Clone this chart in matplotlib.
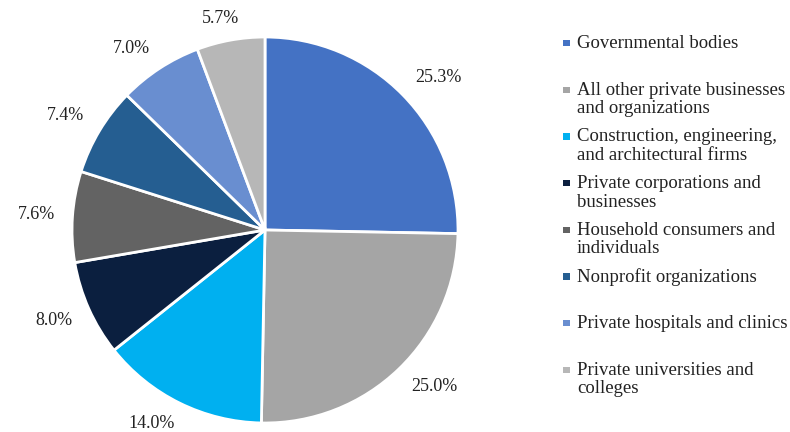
import matplotlib
matplotlib.use("Agg")

import matplotlib.pyplot as plt
import numpy as np
from matplotlib.patches import Rectangle

plt.rcParams["font.family"] = ["Liberation Serif", "DejaVu Serif"]

categories = [
    "Governmental bodies",
    "All other private businesses\nand organizations",
    "Construction, engineering,\nand architectural firms",
    "Private corporations and\nbusinesses",
    "Household consumers and\nindividuals",
    "Nonprofit organizations",
    "Private hospitals and clinics",
    "Private universities and\ncolleges",
]
shares = [25.3, 25.0, 14.0, 8.0, 7.6, 7.4, 7.0, 5.7]
colors = ["#4472C4", "#A5A5A5", "#00B0F0", "#0B1F3F",
          "#636363", "#255E91", "#698ED0", "#B7B7B7"]

TEXT = "#222222"
W, H = 790, 432

fig = plt.figure(figsize=(W / 100, H / 100), dpi=100)
# pie: centre (265, 230) px, radius 193 px
cx, cy, r = 265, 230, 193
ax = fig.add_axes([(cx - r) / W, (H - cy - r) / H, 2 * r / W, 2 * r / H])
wedges, _ = ax.pie(shares, colors=colors, startangle=90, counterclock=False,
                   wedgeprops=dict(edgecolor="white", linewidth=2))
ax.set_xlim(-1, 1)
ax.set_ylim(-1, 1)

# "outside end" data labels: anchored just off the rim, pushed outward by half the box
renderer = fig.canvas.get_renderer()
for w, v in zip(wedges, shares):
    mid = np.deg2rad((w.theta1 + w.theta2) / 2)
    dx, dy = np.cos(mid), np.sin(mid)
    t = ax.annotate(f"{v:.1f}%", xy=(1.09 * dx, 1.08 * dy), xytext=(0, 0),
                    textcoords="offset pixels", ha="center", va="center",
                    fontsize=13, color=TEXT, annotation_clip=False)
    bb = t.get_window_extent(renderer)
    kx = np.clip(dx * 2, -1, 1)
    ky = np.clip(dy * 2, -1, 1)
    t.set_position((kx * bb.width / 2, ky * bb.height * 0.4))

# legend, drawn by hand so every entry gets the same slot height
step = 46.7
for i, (name, col) in enumerate(zip(categories, colors)):
    y = 43 + i * step
    fig.add_artist(Rectangle(((566.5 - 3.2) / W, 1 - (y + 3.2) / H),
                             6.4 / W, 6.4 / H, transform=fig.transFigure,
                             facecolor=col, edgecolor="none"))
    fig.text(577 / W, 1 - (y - 8) / H, name, ha="left", va="top",
             fontsize=13.5, color=TEXT, linespacing=1.12)

fig.savefig("out.png", dpi=100)
